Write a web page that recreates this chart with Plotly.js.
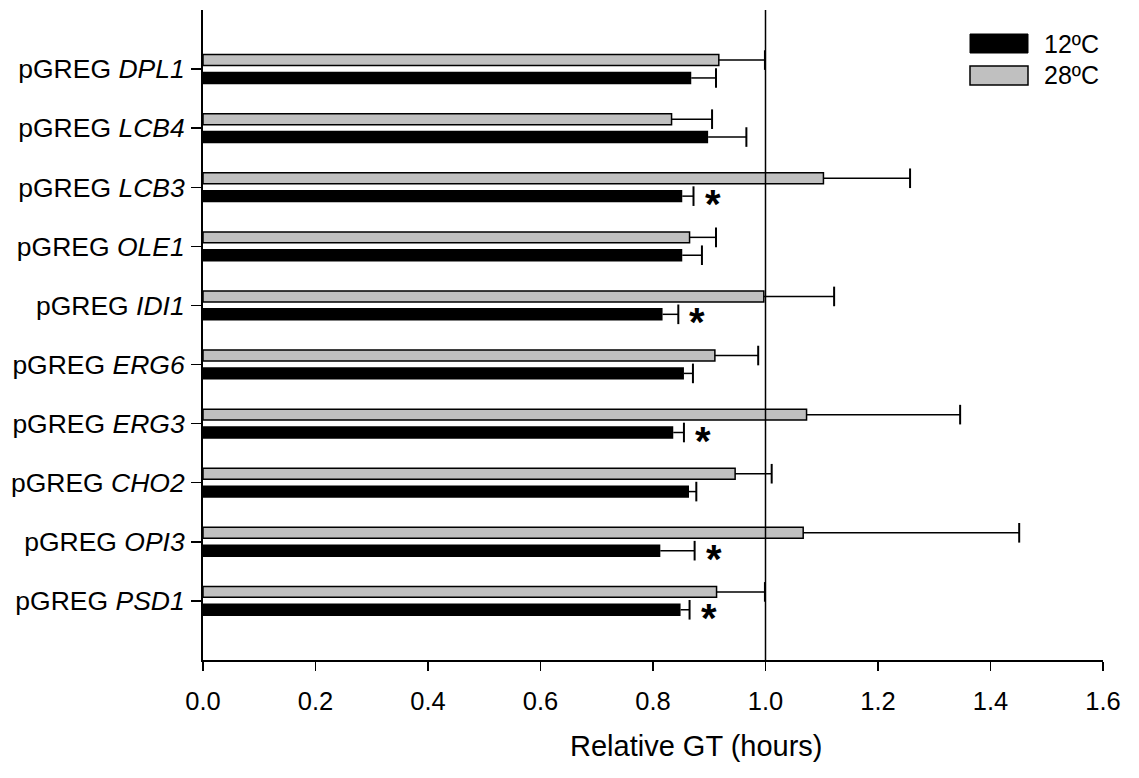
<!DOCTYPE html>
<html>
<head>
<meta charset="utf-8">
<script src="https://cdn.plot.ly/plotly-3.0.1.min.js"></script>
<style>html,body{margin:0;padding:0;background:#fff;}#chart{width:1139px;height:778px;}</style>
</head>
<body>
<div id="chart"></div>
<script>
// ---- data ----
var genes = ["DPL1", "LCB4", "LCB3", "OLE1", "IDI1", "ERG6", "ERG3", "CHO2", "OPI3", "PSD1"];
var prefix = "pGREG";
var gt12 = [0.868, 0.898, 0.852, 0.852, 0.817, 0.855, 0.836, 0.864, 0.813, 0.849];
var err12 = [0.044, 0.068, 0.020, 0.035, 0.028, 0.016, 0.019, 0.013, 0.061, 0.016];
var gt28 = [0.917, 0.833, 1.103, 0.865, 0.997, 0.910, 1.073, 0.946, 1.067, 0.913];
var err28 = [0.082, 0.072, 0.154, 0.047, 0.125, 0.077, 0.273, 0.065, 0.384, 0.086];
var significant12 = [false, false, true, false, true, false, true, false, true, true];
var seriesNames = ["12ºC", "28ºC"];
var xTicks = [0, 0.2, 0.4, 0.6, 0.8, 1.0, 1.2, 1.4, 1.6];
var xTitle = "Relative GT (hours)";
var referenceX = 1.0;

// ---- layout helpers ----
var FONT = "Liberation Sans, Arial, sans-serif";
var idx = genes.map(function (g, i) { return i; });
var tickLabels = genes.map(function (g) { return prefix + " <i>" + g + "</i>"; });
var GRAY = "#c0c0c0";
var BAR_OFF = { g28: -0.245, g12: 0.045 };
var BAR_W = { g28: 0.185, g12: 0.21 };
var ERR_C = { g28: BAR_OFF.g28 + BAR_W.g28 / 2, g12: BAR_OFF.g12 + BAR_W.g12 / 2 };

function whisker(vals, errs, c) {
  var x = [], y = [];
  vals.forEach(function (v, i) {
    x.push(v, v + errs[i], null);
    y.push(i + c, i + c, null);
  });
  return { x: x, y: y };
}
function caps(vals, errs, c) {
  return {
    x: vals.map(function (v, i) { return v + errs[i]; }),
    y: idx.map(function (i) { return i + c; })
  };
}

var w28 = whisker(gt28, err28, ERR_C.g28), w12 = whisker(gt12, err12, ERR_C.g12);
var c28 = caps(gt28, err28, ERR_C.g28), c12 = caps(gt12, err12, ERR_C.g12);

var traces = [
  { type: "bar", orientation: "h", name: seriesNames[1], x: gt28, y: idx,
    offset: BAR_OFF.g28, width: BAR_W.g28,
    marker: { color: GRAY, line: { color: "#000", width: 1.5 } }, showlegend: false, hoverinfo: "x" },
  { type: "bar", orientation: "h", name: seriesNames[0], x: gt12, y: idx,
    offset: BAR_OFF.g12, width: BAR_W.g12,
    marker: { color: "#000", line: { color: "#000", width: 0 } }, showlegend: false, hoverinfo: "x" },
  { type: "scatter", mode: "lines", x: w28.x, y: w28.y, line: { color: "#000", width: 1.5 }, showlegend: false, hoverinfo: "skip" },
  { type: "scatter", mode: "lines", x: w12.x, y: w12.y, line: { color: "#000", width: 1.5 }, showlegend: false, hoverinfo: "skip" },
  { type: "scatter", mode: "markers", x: c28.x, y: c28.y, showlegend: false, hoverinfo: "skip",
    marker: { symbol: "line-ns", size: 14, line: { color: "#000", width: 2 } } },
  { type: "scatter", mode: "markers", x: c12.x, y: c12.y, showlegend: false, hoverinfo: "skip",
    marker: { symbol: "line-ns", size: 14, line: { color: "#000", width: 2 } } }
];

var annotations = [];
significant12.forEach(function (s, i) {
  if (!s) return;
  annotations.push({ x: gt12[i] + err12[i], y: i + ERR_C.g12, xref: "x", yref: "y",
    text: "<b>*</b>", showarrow: false, xanchor: "center", yanchor: "middle",
    xshift: 19, yshift: -8, font: { family: FONT, size: 40, color: "#000" } });
});
annotations.push({ x: (696 - 203) / 900, y: -0.105, xref: "paper", yref: "paper",
  text: xTitle, showarrow: false, xanchor: "center", yanchor: "top",
  font: { family: FONT, size: 29, color: "#000" } });

// legend (drawn manually to mimic large swatches)
var legY = [ (1 - (43.5 - 10) / 650), (1 - (75.5 - 10) / 650) ];
var legX0 = (970 - 203) / 900, legX1 = (1028 - 203) / 900, hh = 9.5 / 650;
var shapes = [
  { type: "line", xref: "x", yref: "paper", x0: referenceX, x1: referenceX, y0: 0, y1: 1,
    line: { color: "#000", width: 1.5 }, layer: "above" },
  { type: "rect", xref: "paper", yref: "paper", x0: legX0, x1: legX1, y0: legY[0] - hh, y1: legY[0] + hh,
    fillcolor: "#000", line: { color: "#000", width: 1 } },
  { type: "rect", xref: "paper", yref: "paper", x0: legX0, x1: legX1, y0: legY[1] - hh, y1: legY[1] + hh,
    fillcolor: GRAY, line: { color: "#000", width: 1.5 } }
];
seriesNames.forEach(function (n, k) {
  annotations.push({ x: (1042 - 203) / 900, y: legY[k], xref: "paper", yref: "paper", text: n,
    showarrow: false, xanchor: "left", yanchor: "middle", font: { family: FONT, size: 25, color: "#000" } });
});

var layout = {
  width: 1139, height: 778,
  margin: { l: 203, r: 36, t: 10, b: 118, pad: 0 },
  paper_bgcolor: "#fff", plot_bgcolor: "#fff",
  font: { family: FONT, color: "#000" },
  xaxis: {
    range: [0, 1.6], tickvals: xTicks, ticktext: xTicks.map(function (t) { return t.toFixed(1); }),
    ticks: "outside", ticklen: 9, tickwidth: 1.5, tickcolor: "#000", ticklabelstandoff: 8,
    showline: true, linecolor: "#000", linewidth: 2, showgrid: false, zeroline: false,
    tickfont: { family: FONT, size: 25.5, color: "#000" }, fixedrange: true
  },
  yaxis: {
    range: [10, -1], tickvals: idx, ticktext: tickLabels,
    ticks: "outside", ticklen: 10, tickwidth: 1.5, tickcolor: "#000", ticklabelstandoff: 1,
    showline: true, linecolor: "#000", linewidth: 2, showgrid: false, zeroline: false,
    tickfont: { family: FONT, size: 26.5, color: "#000" }, fixedrange: true
  },
  barmode: "overlay",
  shapes: shapes,
  annotations: annotations,
  showlegend: false
};

Plotly.newPlot("chart", traces, layout, { displayModeBar: false, staticPlot: true });
</script>
</body>
</html>
